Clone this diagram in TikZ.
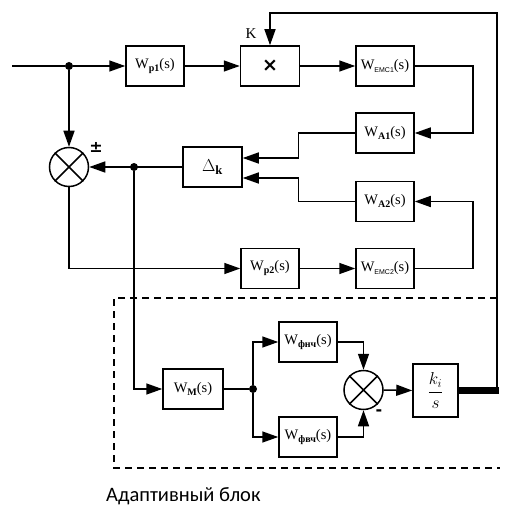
\documentclass[tikz,border=0pt]{standalone}
\usepackage{fontspec}
\setmainfont{Liberation Serif}
\newfontfamily\lblfont{Carlito}
\newfontfamily\symfont{DejaVu Sans}
\newfontfamily\subsans{Liberation Sans}
\usetikzlibrary{arrows.meta,calc}
\newcommand{\Wsub}[1]{{\fontsize{14.5}{14.5}\selectfont W\raisebox{-3pt}{\fontsize{10}{10}\selectfont\bfseries #1}(s)}}
\newcommand{\Wsan}[1]{{\fontsize{14.5}{14.5}\selectfont W\raisebox{-3pt}{\fontsize{7}{7}\selectfont\subsans #1}(s)}}
\tikzset{
  ln/.style={line width=1.5pt},
  arr/.style={ln,-{Triangle[length=16pt,width=11pt]}},
  blk/.style={draw,line width=1.5pt,minimum width=58pt,minimum height=40pt,inner sep=0pt},
  summ/.style={draw,line width=1.5pt,circle,minimum size=39pt,inner sep=0pt},
  dotj/.style={circle,fill=black,minimum size=8pt,inner sep=0pt},
}
\begin{document}
\begin{tikzpicture}[x=1pt,y=-1pt]
\useasboundingbox (0,0) rectangle (509,508);
% blocks
\node[blk] (wp1) at (155,66) {\Wsub{p1}};
\node[blk,minimum width=59pt] (mul) at (270,66) {\symfont\bfseries\fontsize{19}{19}\selectfont ×};
\node[blk] (wemc1) at (385,66) {\Wsan{ЕМС1}};
\node[blk] (wa1) at (385,133) {\Wsub{A1}};
\node[blk,minimum width=59pt] (dk) at (212.5,167) {\fontsize{18}{18}\selectfont$\Delta_{\mathbf{k}}$};
\node[blk] (wa2) at (385,201.5) {\Wsub{A2}};
\node[blk] (wemc2) at (385,268.5) {\Wsan{ЕМС2}};
\node[blk] (wp2) at (270,268.5) {\Wsub{p2}};
\node[summ] (s1) at (69,167) {};
\draw[ln] (s1.north west) -- (s1.south east) (s1.north east) -- (s1.south west);
\node[blk,minimum width=60pt] (wm) at (193,389) {\Wsub{M}};
\node[blk] (wfn) at (308,342) {\Wsub{фнч}};
\node[blk] (wfv) at (308,437) {\Wsub{фвч}};
\node[summ] (s2) at (363.5,390) {};
\draw[ln] (s2.north west) -- (s2.south east) (s2.north east) -- (s2.south west);
\node[blk,minimum width=45pt,minimum height=53pt] (ki) at (435.5,390.5) {\fontsize{17}{17}\selectfont$\displaystyle\frac{k_i}{s}$};
% junctions and points
\coordinate (in) at (12,66);
\node[dotj] (j1) at (69,66) {};
\node[dotj] (j2) at (134,167) {};
\node[dotj] (j3) at (253,389) {};
\coordinate (c2) at (497,390.5);
\coordinate (tr) at (497,13);
% labels
\node (klab) at (251,34) {\fontsize{15}{15}\selectfont K};
\node (pm) at (96,147) {\symfont\bfseries\fontsize{16}{16}\selectfont ±};
\node (mn) at (379,413) {\symfont\bfseries\fontsize{16}{16}\selectfont -};
\node[anchor=west,inner sep=0pt] (title) at (106,496) {\lblfont\fontsize{20.5}{20.5}\selectfont Адаптивный блок};
% connectors
\draw[ln] (in) -- (j1);
\draw[arr] (j1) -- (wp1.west);
\draw[arr] (wp1.east) -- (mul.west);
\draw[arr] (mul.east) -- (wemc1.west);
\draw[arr] (wemc1.east) -- ++(58,0) |- (wa1.east);
\draw[arr] (wa1.west) -- ++(-57,0) |- ([yshift=9pt]dk.east);
\draw[arr] (wemc2.east) -- ++(58,0) |- (wa2.east);
\draw[arr] (wa2.west) -- ++(-57,0) |- ([yshift=-11pt]dk.east);
\draw[arr] (j1) -- (s1.north);
\draw[arr] (dk.west) -- (s1.east);
\draw[arr] (s1.south) |- (wp2.west);
\draw[arr] (wp2.east) -- (wemc2.west);
\draw[arr] (j2) |- (wm.west);
\draw[ln] (wm.east) -- (j3);
\draw[arr] (j3) |- (wfn.west);
\draw[arr] (j3) |- (wfv.west);
\draw[arr] (wfn.east) -| (s2.north);
\draw[arr] (wfv.east) -| (s2.south);
\draw[arr] (s2.east) -- (ki.west);
\draw[line width=6.5pt] (ki.east) -- ([xshift=1.5pt]c2);
\draw[arr] (c2) -- (tr) -| (mul.north);
% dashed adaptive block
\draw[line width=1.3pt,dash pattern=on 7pt off 5pt] (497,298) -- (114,298) -- (114,468) -- (500,468);
\end{tikzpicture}
\end{document}
